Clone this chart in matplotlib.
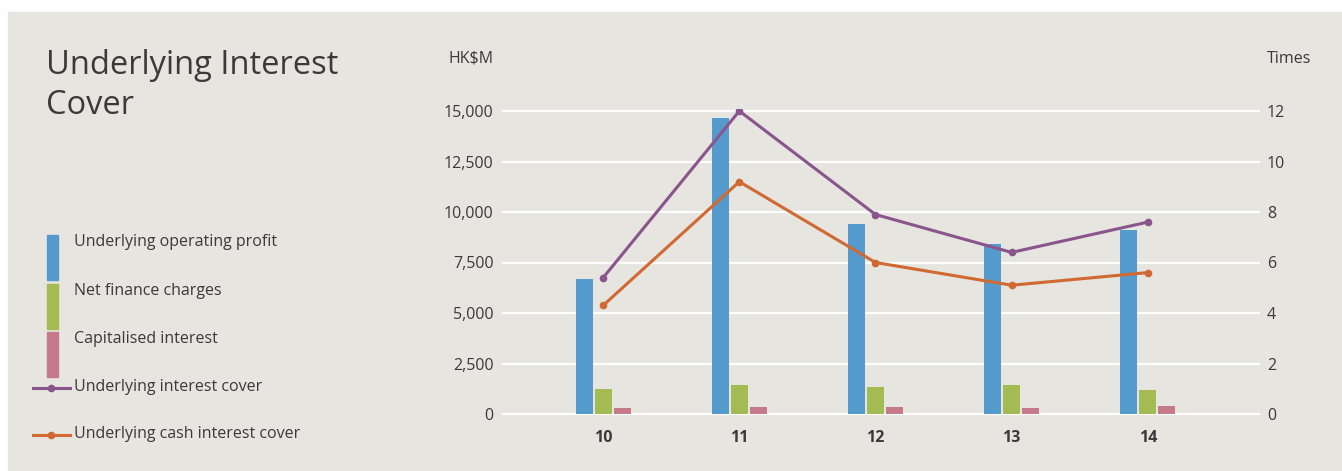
import numpy as np
import matplotlib
matplotlib.use("Agg")
import matplotlib.pyplot as plt
from matplotlib.patches import Rectangle
from matplotlib.lines import Line2D
from matplotlib.ticker import FuncFormatter

plt.rcParams['font.family'] = ['Open Sans', 'DejaVu Sans']

years = ['10', '11', '12', '13', '14']
operating_profit = [6700, 14650, 9400, 8400, 9100]
net_finance = [1250, 1450, 1350, 1450, 1200]
capitalised = [300, 350, 350, 300, 400]
interest_cover = [5.4, 12.0, 7.9, 6.4, 7.6]
cash_cover = [4.3, 9.2, 6.0, 5.1, 5.6]

left_ticks = [0, 2500, 5000, 7500, 10000, 12500, 15000]
right_ticks = [0, 2, 4, 6, 8, 10, 12]

BG = '#E6E5DF'
TXT = '#3a3a3a'
c_blue = '#559ACC'
c_green = '#A4BB53'
c_pink = '#C47A89'
c_purple = '#8A548C'
c_orange = '#D06932'

W, H = 1342, 471
fig = plt.figure(figsize=(W / 100, H / 100), dpi=100)
fig.patch.set_facecolor('white')
fig.patches.append(Rectangle((8 / W, 0), 1 - 8 / W, 1 - 12 / H,
                             transform=fig.transFigure, color=BG, zorder=-10))

# main axes (pixel box 502..1260 x 109..416)
ax = fig.add_axes([502 / W, (H - 416) / H, 758 / W, 307 / H])
ax.set_facecolor('none')
x = np.arange(len(years))
bw = 0.125
off = 0.14
ax.bar(x - off, operating_profit, bw, color=c_blue, zorder=2)
ax.bar(x, net_finance, bw, color=c_green, zorder=2)
ax.bar(x + off, capitalised, bw, color=c_pink, zorder=2)

pad = 15000 / 303 * 2
ax.set_ylim(-pad, 15000 + pad)
ax.set_xlim(-0.743, 4.824)
ax.set_yticks(left_ticks)
ax.yaxis.set_major_formatter(FuncFormatter(lambda v, p: f'{int(v):,}'))
ax.set_xticks(x)
ax.set_xticklabels(years, fontweight='bold')
ax.grid(axis='y', color='white', linewidth=1.6, zorder=0)
ax.set_axisbelow(True)
for s in ax.spines.values():
    s.set_visible(False)
ax.tick_params(axis='y', length=0, pad=6, labelsize=11.5, labelcolor=TXT)
ax.tick_params(axis='x', length=0, pad=10, labelsize=11.5, labelcolor=TXT)

ax2 = ax.twinx()
ax2.set_ylim(ax.get_ylim()[0] / 1250, ax.get_ylim()[1] / 1250)
ax2.plot(x, interest_cover, color=c_purple, lw=2.2, marker='o', ms=4.5, zorder=3)
ax2.plot(x, cash_cover, color=c_orange, lw=2.2, marker='o', ms=4.5, zorder=3)
ax2.set_yticks(right_ticks)
for s in ax2.spines.values():
    s.set_visible(False)
ax2.tick_params(axis='y', length=0, pad=5, labelsize=11.5, labelcolor=TXT)

fig.text(494 / W, 1 - 59 / H, 'HK$M', ha='right', va='center', fontsize=11.5, color=TXT)
fig.text(1267 / W, 1 - 59 / H, 'Times', ha='left', va='center', fontsize=11.5, color=TXT)

# title
fig.text(46 / W, 1 - 66 / H, 'Underlying Interest', ha='left', va='center',
         fontsize=23.5, color=TXT)
fig.text(46 / W, 1 - 106 / H, 'Cover', ha='left', va='center',
         fontsize=23.5, color=TXT)

# legend drawn in pixel space
lg = fig.add_axes([0, 0, 1, 1])
lg.set_xlim(0, W)
lg.set_ylim(H, 0)
lg.axis('off')
lg.patch.set_visible(False)
patches = [(c_blue, 235, 280, 'Underlying operating profit', 242),
           (c_green, 284, 329, 'Net finance charges', 291),
           (c_pink, 332, 377, 'Capitalised interest', 339)]
for col, y0, y1, lab, ty in patches:
    lg.add_patch(Rectangle((47, y0), 11, y1 - y0, color=col))
    lg.text(74, ty, lab, ha='left', va='center', fontsize=11.5, color=TXT)
lines = [(c_purple, 388, 'Underlying interest cover'),
         (c_orange, 435, 'Underlying cash interest cover')]
for col, ly, lab in lines:
    lg.add_line(Line2D([33, 70], [ly, ly], color=col, lw=2.2))
    lg.plot([51], [ly], 'o', color=col, ms=4.5)
    lg.text(74, ly - 1, lab, ha='left', va='center', fontsize=11.5, color=TXT)

fig.savefig('out.png', dpi=100, facecolor=fig.get_facecolor())
